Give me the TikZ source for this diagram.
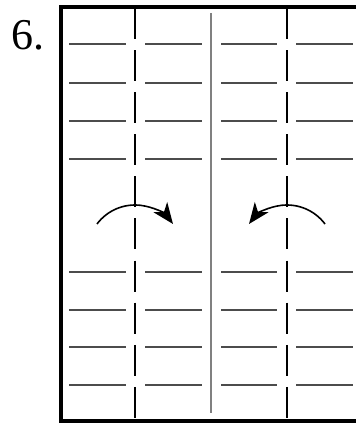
\documentclass[tikz,border=0pt]{standalone}
\usepackage{fontspec}
\setmainfont{Liberation Serif}
\usetikzlibrary{arrows.meta}

\tikzset{
  frame/.style={line width=3.5pt,line join=miter},
  crease/.style={black,line width=2.5pt,dash pattern=on 31pt off 11.1pt},
  midline/.style={black!50,line width=1.5pt},
  textline/.style={black!70,line width=1.1pt},
  turn/.style={line width=1.6pt,-{Stealth[length=21pt,width=17pt,inset=6pt]}}
}

\begin{document}
\begin{tikzpicture}[x=1pt,y=1pt]
        \useasboundingbox (0,0) rectangle (356,424);
        \node [anchor=base west,inner sep=0pt,font=\fontsize{44}{50}\selectfont] (step) at (11,374) {6.};
        % page
        \draw [frame] (358,417) -- (61,417) -- (61,3) -- (358,3);
        \draw [midline] (211,411) -- (211,11);
        % text lines
        \foreach \y in {380,341,303,265,152,114,77,39} {
            \foreach \a/\b in {69/126,145/202,221/277,296/353}
                \draw [textline] (\a,\y) -- (\b,\y);
        }
        % folds
        \draw [crease] (135,416) -- (135,3);
        \draw [crease] (287,416) -- (287,3);
        \draw [turn] (97,200) arc (143.13:36.87:47.5);
        \draw [turn] (325,200) arc (36.87:143.13:47.5);
    \end{tikzpicture}
\end{document}
